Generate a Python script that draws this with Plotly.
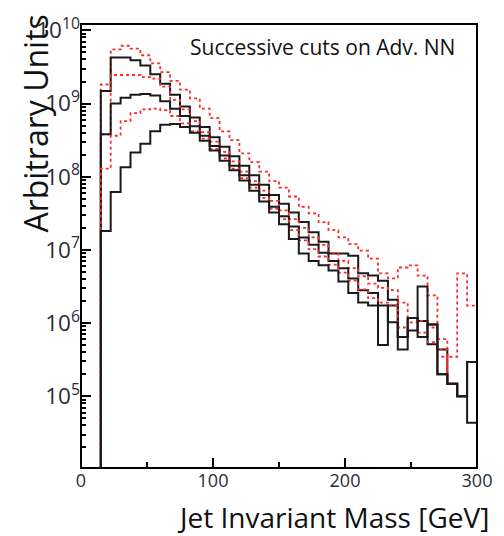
import plotly.graph_objects as go

# Bin edges: 40 bins of 7.5 GeV between 0 and 300 GeV
bin_width = 7.5
n_bins = 40
edges = [i * bin_width for i in range(n_bins + 1)]

# log10 of bin contents (Arbitrary Units); None = empty bin
red1_log10 = [None, None, 9.26, 9.74, 9.79, 9.75, 9.66, 9.55, 9.43, 9.31, 9.19, 9.07, 8.93, 8.80,
              8.62, 8.50, 8.32, 8.20, 8.07, 7.94, 7.85, 7.73, 7.59, 7.50, 7.38, 7.27, 7.17, 7.08,
              6.99, 6.88, 6.68, 6.61, 6.76, 6.79, 6.65, 6.38, 5.78, 5.54, 6.68, 6.24]
black1_log10 = [None, None, 9.17, 9.63, 9.63, 9.59, 9.52, 9.40, 9.27, 9.12, 8.96, 8.81, 8.68, 8.54,
                8.41, 8.28, 8.15, 8.02, 7.89, 7.75, 7.63, 7.51, 7.38, 7.24, 7.11, 6.95, 6.95, 6.92,
                6.68, 6.65, 6.58, 6.32, 5.81, 6.07, 6.03, 5.98, 5.64, 5.17, 5.00, 4.64]
red2_log10 = [None, None, 8.58, 9.39, 9.39, 9.39, 9.36, 9.34, 9.23, 9.05, 8.92, 8.76, 8.61, 8.48,
              8.34, 8.21, 8.07, 7.94, 7.81, 7.67, 7.54, 7.42, 7.30, 7.17, 7.07, 6.96, 6.85, 6.75,
              6.64, 6.54, 6.48, 6.45, 6.28, 6.07, 6.03, 5.94, 5.64, 5.17, 5.00, 5.47]
black2_log10 = [None, None, 8.58, 9.00, 9.08, 9.12, 9.13, 9.11, 9.03, 8.93, 8.83, 8.69, 8.56, 8.42,
                8.29, 8.15, 8.02, 7.89, 7.75, 7.59, 7.46, 7.32, 7.17, 7.07, 6.96, 6.85, 6.75, 6.61,
                6.45, 6.41, 5.70, 6.24, 5.64, 5.90, 6.50, 5.71, 5.30, 5.17, 5.00, 5.47]
red3_log10 = [None, None, 8.11, 8.56, 8.76, 8.87, 8.92, 8.93, 8.91, 8.83, 8.73, 8.62, 8.52, 8.38,
              8.25, 8.11, 7.98, 7.85, 7.71, 7.56, 7.42, 7.27, 7.13, 7.01, 6.91, 6.80, 6.69, 6.58,
              6.46, 6.34, 6.28, 6.24, 5.94, 6.01, 5.87, 5.74, 5.54, 5.17, 5.00, 5.47]
black3_log10 = [None, None, 7.26, 7.79, 8.13, 8.33, 8.45, 8.62, 8.71, 8.72, 8.68, 8.60, 8.49, 8.36,
                8.22, 8.09, 7.95, 7.81, 7.66, 7.51, 7.35, 7.15, 6.95, 6.85, 6.79, 6.72, 6.57, 6.41,
                6.28, 6.24, 6.24, 6.01, 5.81, 6.07, 5.81, 5.98, 5.30, 5.17, 5.00, 5.47]

x_range = [0, 300]
x_major_step = 100
x_minor_step = 50
y_range_log10 = [4.02, 10.087]

series = [
    ("red1", red1_log10, "#ff2a2a", "dot", 1.8),
    ("black1", black1_log10, "#1a1a1a", "solid", 2.0),
    ("red2", red2_log10, "#ff2a2a", "dot", 1.8),
    ("black2", black2_log10, "#1a1a1a", "solid", 2.0),
    ("red3", red3_log10, "#ff2a2a", "dot", 1.8),
    ("black3", black3_log10, "#1a1a1a", "solid", 2.0),
]

floor_value = 10 ** y_range_log10[0]

fig = go.Figure()
for name, vals, color, dash, width in series:
    yv = [floor_value if v is None else 10 ** v for v in vals]
    yv = yv + [yv[-1]]
    fig.add_trace(go.Scatter(x=edges, y=yv, mode="lines",
                             line=dict(shape="hv", color=color, dash=dash, width=width),
                             name=name, showlegend=False))

fig.update_layout(
    width=504, height=536,
    margin=dict(l=81, r=27, t=16, b=68),
    plot_bgcolor="white",
    xaxis=dict(range=x_range, dtick=x_major_step, ticks="inside", ticklen=10, tickwidth=2,
               tickcolor="black", tickfont=dict(size=18, color="#2a2a3a"),
               minor=dict(dtick=x_minor_step, ticks="inside", ticklen=6, tickcolor="black",
                          tickwidth=2)),
    yaxis=dict(type="log", range=y_range_log10, dtick=1, exponentformat="power",
               ticks="inside", ticklen=10, tickwidth=2, tickcolor="black",
               tickfont=dict(size=18, color="#2a2a3a"),
               minor=dict(ticks="inside", ticklen=5, tickcolor="black", tickwidth=1.5)),
    shapes=[dict(type="rect", xref="paper", yref="paper", x0=0, x1=1, y0=0, y1=1,
                 line=dict(color="black", width=2), layer="above")],
    annotations=[
        dict(text="Successive cuts on Adv. NN", xref="paper", yref="paper", x=0.27, y=0.948,
             xanchor="left", yanchor="middle", showarrow=False,
             font=dict(size=21, color="#111")),
        dict(text="Jet Invariant Mass [GeV]", xref="paper", yref="paper", x=1.035, y=-0.11,
             xanchor="right", yanchor="middle", showarrow=False,
             font=dict(size=28, color="#111")),
        dict(text="Arbitrary Units", xref="paper", yref="paper", x=-0.116, y=1.026,
             xanchor="center", yanchor="top", textangle=-90, showarrow=False,
             font=dict(size=32, color="#111")),
    ],
)

fig.write_html("out.html")
